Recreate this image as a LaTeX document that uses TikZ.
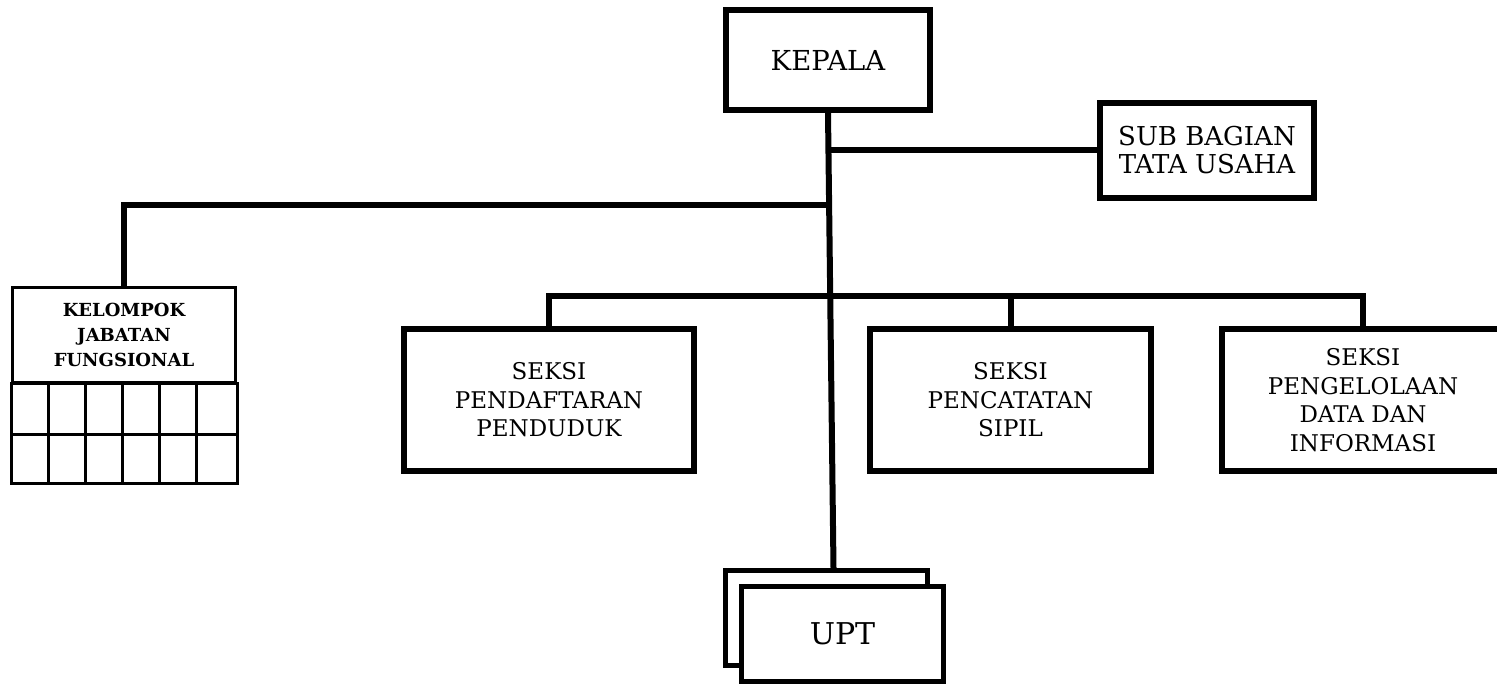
\documentclass[tikz,border=0pt]{standalone}
\usepackage{fontspec}
\setmainfont{DejaVu Serif}
\usetikzlibrary{calc}

\tikzset{
  unitbox/.style={draw, line width=6pt, fill=white, align=center, inner sep=0pt},
  uptbox/.style={draw, line width=5pt, fill=white, align=center, inner sep=0pt,
    minimum width=202pt, minimum height=95pt},
  seksibox/.style={unitbox, minimum height=142pt,
    font=\fontsize{23}{28.5}\selectfont},
  link/.style={line width=6pt, line join=miter},
  grid/.style={line width=3pt},
}

\begin{document}
\begin{tikzpicture}[x=1pt, y=-1pt]
  \useasboundingbox (0,0) rectangle (1497,685);
  \clip (0,0) rectangle (1497,685);

  % head and secretariat
  \node[unitbox, minimum width=204pt, minimum height=100pt,
        font=\fontsize{27.5}{30}\selectfont] (kepala) at (828,60) {KEPALA};
  \node[unitbox, minimum width=214pt, minimum height=95pt,
        font=\fontsize{26}{28}\selectfont] (sub) at (1207,150)
        {SUB BAGIAN\\TATA USAHA};

  % functional group: header cell with a 2 x 6 grid underneath
  \node[draw, grid, align=center, inner sep=0pt, minimum width=223pt,
        minimum height=94.5pt, font=\fontsize{18}{25.3}\selectfont\bfseries]
        (kjf) at (124,334.75) {KELOMPOK\\JABATAN\\FUNGSIONAL};
  \draw[grid] (kjf.south west) rectangle ($(kjf.south east)+(0,99.5)$);
  \draw[grid] ($(kjf.south west)+(0,50.5)$) -- ($(kjf.south east)+(0,50.5)$);
  \foreach \k in {1,...,5} {
    \draw[grid] ($(kjf.south west)+(37.17*\k,0)$) -- ($(kjf.south west)+(37.17*\k,99.5)$);
  }

  % sections (the last one runs past the right edge)
  \node[seksibox, minimum width=290pt] (s1) at (549,400)
        {SEKSI\\PENDAFTARAN\\PENDUDUK};
  \node[seksibox, minimum width=281pt] (s2) at (1010.5,400)
        {SEKSI\\PENCATATAN\\SIPIL};
  \node[seksibox, minimum width=282pt] (s3) at (1363,400)
        {SEKSI\\PENGELOLAAN\\DATA DAN\\INFORMASI};

  % technical units (stacked)
  \node[uptbox] (uptback) at (826.5,618) {};
  \node[uptbox, font=\fontsize{30}{32}\selectfont] (upt) at (842.5,634) {UPT};

  % main vertical line and its junctions
  \coordinate (uptin) at ($(uptback.north west)+(110.5,0)$);
  \coordinate (j0) at ($(kepala.south)!0.081!(uptin)$);
  \coordinate (j1) at ($(kepala.south)!0.202!(uptin)$);
  \coordinate (bus) at (0,296);

  \draw[link] (kepala.south) -- (uptin);
  \draw[link] (j0) -- (j0 -| sub.west);
  \draw[link] (kjf.north) |- (j1);
  \draw[link] (s1.north) -- (s1.north |- bus) -- (s3.north |- bus) -- (s3.north);
  \draw[link] (s2.north) -- (s2.north |- bus);

  % redraw the stacked boxes on top of the line end
  \node[uptbox] at (uptback) {};
  \node[uptbox, font=\fontsize{30}{32}\selectfont] at (upt) {UPT};
\end{tikzpicture}
\end{document}
